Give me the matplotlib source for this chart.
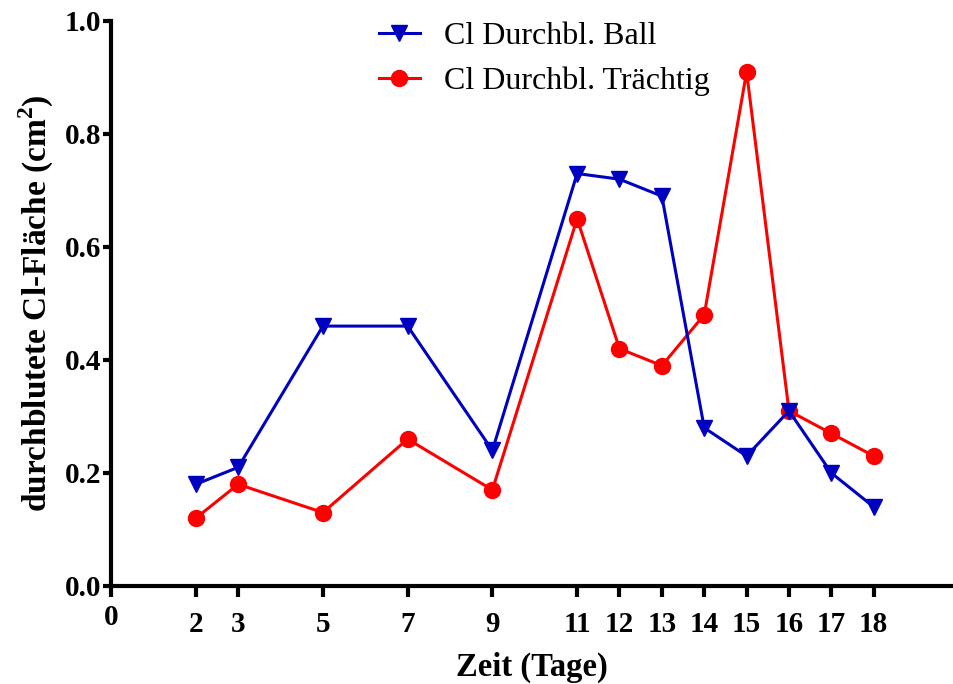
import matplotlib.pyplot as plt

plt.rcParams['font.family'] = ['Liberation Serif', 'DejaVu Serif']
plt.rcParams['mathtext.fontset'] = 'custom'
plt.rcParams['mathtext.rm'] = 'Liberation Serif'
plt.rcParams['mathtext.bf'] = 'Liberation Serif:bold'

tage = [2, 3, 5, 7, 9, 11, 12, 13, 14, 15, 16, 17, 18]
ball = [0.18, 0.21, 0.46, 0.46, 0.24, 0.73, 0.72, 0.69, 0.28, 0.23, 0.31, 0.20, 0.14]
traechtig = [0.12, 0.18, 0.13, 0.26, 0.17, 0.65, 0.42, 0.39, 0.48, 0.91, 0.31, 0.27, 0.23]
xticks = [0] + tage
yticks = [0.0, 0.2, 0.4, 0.6, 0.8, 1.0]

fig = plt.figure(figsize=(9.54, 6.84), dpi=100)
ax = fig.add_axes([0.1164, 0.1433, 0.8816, 0.826])

ax.plot(tage, ball, color='#0000c0', lw=2.2, marker='v', ms=12,
        label='Cl Durchbl. Ball', zorder=3, clip_on=False)
ax.plot(tage, traechtig, color='#ff0000', lw=2.2, marker='o', ms=11.5,
        label='Cl Durchbl. Trächtig', zorder=2, clip_on=False)

ax.set_xlim(0, 19.85)
ax.set_ylim(0, 1.0)
ax.set_xticks(xticks)
ax.set_yticks(yticks)
ax.set_yticklabels(['%.1f' % v for v in yticks])

for side in ['top', 'right']:
    ax.spines[side].set_visible(False)
for side in ['left', 'bottom']:
    ax.spines[side].set_linewidth(3)
ax.tick_params(axis='both', width=3, labelsize=21, direction='out')
ax.tick_params(axis='x', length=8, pad=10)
ax.tick_params(axis='y', length=6, pad=1)
for lbl in ax.get_xticklabels() + ax.get_yticklabels():
    lbl.set_fontweight('bold')
# the origin label sits a little higher than the others
ax.get_xticklabels()[0].set_y(0.012)

ax.set_xlabel('Zeit (Tage)', fontsize=23.5, fontweight='bold', labelpad=10)
ax.set_ylabel(r'durchblutete Cl-Fläche (cm$^{\mathbf{2}}$)', fontsize=24,
              fontweight='bold', labelpad=6)

ax.legend(loc='upper left', bbox_to_anchor=(0.284, 1.05), frameon=False,
          fontsize=23, handlelength=1.3, handletextpad=0.75, labelspacing=0.5)

fig.savefig('out.png', dpi=100)
